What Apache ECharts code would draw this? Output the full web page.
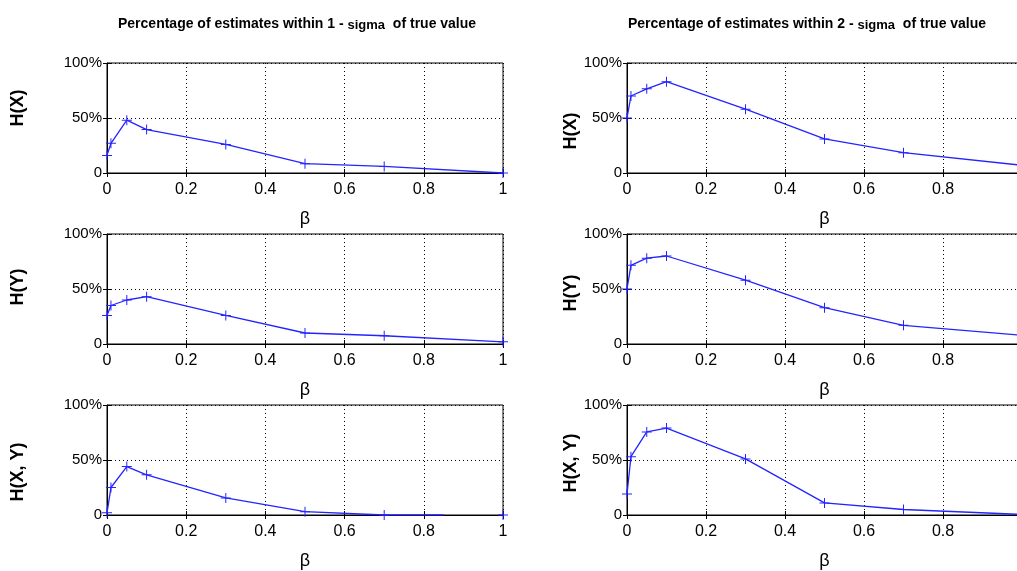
<!DOCTYPE html>
<html><head><meta charset="utf-8">
<script src="https://cdn.jsdelivr.net/npm/echarts@6/dist/echarts.min.js"></script>
<style>html,body{margin:0;padding:0;background:#fff}#c{width:1017px;height:571px}</style>
</head><body><div id="c"></div>
<script>
// beta values where estimates were evaluated
const betas = [0, 0.01, 0.05, 0.1, 0.3, 0.5, 0.7, 1];
// percentage within 1-sigma
const oneSigmaHX  = [16, 27, 48, 39.5, 26, 8.5, 6, 0];
const oneSigmaHY  = [26, 35, 40, 43, 26, 10, 7.5, 2];
const oneSigmaHXY = [2, 25, 44, 36.5, 15.5, 3, 0, 0];
// percentage within 2-sigma
const twoSigmaHX  = [50, 70, 76.5, 83, 58, 31, 18.5, 7];
const twoSigmaHY  = [50, 71.5, 78, 80, 58, 33, 17, 8];
const twoSigmaHXY = [19, 53, 75.5, 79, 51, 11, 5, 0.5];
// in the 1-sigma H(X,Y) panel the line stops at this beta, last point shown alone
const oneSigmaHXYLineEnd = 0.85;
const rowLabels = ['H(X)', 'H(Y)', 'H(X, Y)'];
const titles = ['1', '2'];

const FONT = '"Liberation Sans", Arial, sans-serif';
const BLUE = '#2424ff';
const PLUS = 'path://M4.5,0H5.5V4.5H10V5.5H5.5V10H4.5V5.5H0V4.5H4.5Z';

const rowTops = [63, 234, 405];
const cols = [{left: 107, width: 396, nameGap: 80}, {left: 627, width: 395, nameGap: 40}];
// vertical shift of the row label (positive = up)
const nameShift = [[10, 2, -12], [-13, -4, -3]];
const panels = [
  [oneSigmaHX, twoSigmaHX],
  [oneSigmaHY, twoSigmaHY],
  [oneSigmaHXY, twoSigmaHXY]
];

const grid = [], xAxis = [], yAxis = [], series = [];
let gi = 0;
for (let r = 0; r < 3; r++) {
  for (let c = 0; c < 2; c++) {
    grid.push({left: cols[c].left, width: cols[c].width, top: rowTops[r], height: 110,
      outerBoundsMode: 'none', containLabel: false,
      show: true, borderColor: '#000', borderWidth: 1, backgroundColor: 'transparent'});
    const lbl = {color: '#000', fontFamily: FONT, fontSize: 16};
    xAxis.push({gridIndex: gi, type: 'value', min: 0, max: 1, interval: 0.2,
      name: 'β', nameLocation: 'middle', nameGap: 37,
      nameTextStyle: {color: '#000', fontFamily: FONT, fontSize: 18},
      axisLine: {show: true, onZero: false, lineStyle: {color: '#000', width: 1}},
      axisTick: {show: true, inside: true, length: 4, lineStyle: {color: '#000'}},
      axisLabel: Object.assign({formatter: v => (v === 0 || v === 1) ? String(v) : v.toFixed(1), margin: 9}, lbl),
      splitLine: {show: true, lineStyle: {color: '#000', type: [1, 3], width: 1}}});
    xAxis.push({gridIndex: gi, type: 'value', min: 0, max: 1, interval: 0.2, position: 'top',
      axisLine: {show: false}, axisLabel: {show: false}, splitLine: {show: false},
      axisTick: {show: true, inside: true, length: 4, lineStyle: {color: '#000'}}});
    const sh = nameShift[c][r];
    yAxis.push({gridIndex: gi, type: 'value', min: 0, max: 100, interval: 50,
      name: rowLabels[r], nameLocation: 'middle', nameGap: cols[c].nameGap, nameRotate: 90,
      nameTextStyle: {color: '#000', fontFamily: FONT, fontSize: 18, fontWeight: 'bold',
        padding: sh >= 0 ? [0, 0, 0, 2 * sh] : [0, -2 * sh, 0, 0]},
      axisLine: {show: true, lineStyle: {color: '#000', width: 1}},
      axisTick: {show: true, inside: true, length: 4, lineStyle: {color: '#000'}},
      axisLabel: Object.assign({formatter: v => v === 0 ? '0' : v + '%', margin: 5}, lbl, {fontSize: 15}),
      splitLine: {show: true, lineStyle: {color: '#000', type: [1, 3], width: 1}}});
    yAxis.push({gridIndex: gi, type: 'value', min: 0, max: 100, interval: 50, position: 'right',
      axisLine: {show: false}, axisLabel: {show: false}, splitLine: {show: false},
      axisTick: {show: true, inside: true, length: 4, lineStyle: {color: '#000'}}});
    const ys = panels[r][c];
    let data = betas.map((b, i) => [b, ys[i]]);
    if (r === 2 && c === 0) {
      const last = data.pop();
      data.push({value: [oneSigmaHXYLineEnd, ys[ys.length - 2]], symbol: 'none'});
      data.push([(oneSigmaHXYLineEnd + last[0]) / 2, null]);
      data.push(last);
    }
    series.push({type: 'line', xAxisIndex: gi * 2, yAxisIndex: gi * 2, data: data,
      symbol: PLUS, symbolSize: 10, showAllSymbol: true, connectNulls: false,
      lineStyle: {color: BLUE, width: 1.3}, itemStyle: {color: BLUE}, animation: false});
    gi++;
  }
}

const titleRich = {
  a: {fontFamily: FONT, fontSize: 14, fontWeight: 'bold', color: '#000'},
  b: {fontFamily: FONT, fontSize: 13, color: '#000', padding: [3, 0, 0, 0]}
};
const title = titles.map((n, i) => ({
  text: '{a|Percentage of estimates within ' + n + ' - }{b|sigma}{a|  of true value}',
  left: i === 0 ? 113 : 623, top: 11,
  textStyle: {rich: titleRich}
}));

const chart = echarts.init(document.getElementById('c'), null, {renderer: 'canvas'});
chart.setOption({animation: false, backgroundColor: '#fff', title, grid, xAxis, yAxis, series});
</script></body></html>
